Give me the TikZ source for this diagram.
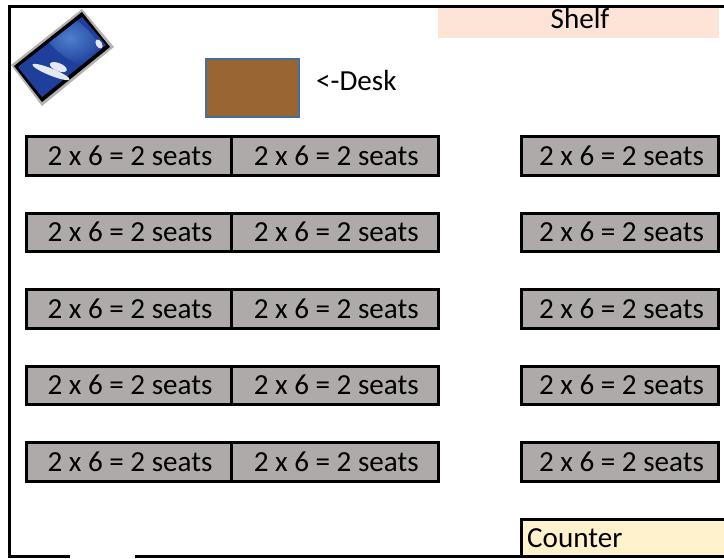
\documentclass[tikz,border=0pt]{standalone}
\usepackage{fontspec}
\setmainfont{Carlito}
\usetikzlibrary{positioning}
\definecolor{seatgrey}{HTML}{AEAAAA}
\definecolor{shelfpink}{HTML}{FDE4D7}
\definecolor{counteryellow}{HTML}{FFF2CC}
\definecolor{deskbrown}{HTML}{996633}
\definecolor{deskblue}{HTML}{41719C}
\definecolor{screenblue}{HTML}{1F3F9C}
\definecolor{skyblue}{HTML}{4F7FCC}
\tikzset{
    seat/.style={draw=black, fill=seatgrey, line width=3pt, minimum height=38.5pt, inner sep=0pt, outer sep=0pt, text height=19pt, text depth=1pt, font=\fontsize{29.1}{30}\selectfont, execute at begin node={\kern3pt}},
    seatl/.style={seat, minimum width=205pt},
    seatm/.style={seat, minimum width=207.5pt},
    seatr/.style={seat, minimum width=197pt},
    wall/.style={line width=3pt, line cap=rect},
    label/.style={inner sep=0pt, font=\fontsize{29.1}{30}\selectfont},
    cloud/.style={fill=white!88!screenblue},
}
\begin{document}
\begin{tikzpicture}[x=1pt, y=-1pt]
    \useasboundingbox (0,0) rectangle (724,558);
    \tikzset{node distance=38pt and 0pt}

    % room
    \node[fill=shelfpink, minimum width=281pt, minimum height=31pt, inner sep=0pt, outer sep=0pt] (shelf) at (578.5,22.5) {};
    \coordinate (topleft) at (9,6.5);
    \coordinate (topright) at (724,6.5);
    \coordinate (botleft) at (9,556.5);
    \coordinate (doorl) at (68,556.5);
    \coordinate (doorr) at (136,556.5);
    \coordinate (botright) at (724,556.5);
    \draw[wall] (topright) -- (topleft) -- (botleft) -- (doorl);
    \node[label, anchor=base] (shelftext) at (580,28) {Shelf};
    \node[draw=black, fill=counteryellow, line width=3pt, minimum width=206pt, minimum height=37pt, inner sep=0pt, outer sep=0pt] (counter) at (624.5,537.5) {};
    \node[label, anchor=base west] (countertext) at (527,547) {Counter};
    \draw[wall] (doorr) -- (botright);

    % desk
    \node[draw=deskblue, fill=deskbrown, line width=2pt, minimum width=93pt, minimum height=58pt, outer sep=0pt] (desk) at (252,88) {};
    \node[label, anchor=base west] (desktext) at (316,90) {<-Desk};

    % screen
    \fill[black!30] (82,9) -- (114,47) -- (42,106) -- (11,65) -- cycle;
    \fill[black] (82,12) -- (110,47) -- (42,102) -- (14,66) -- cycle;
    \begin{scope}
      \clip (82,17) -- (106,45) -- (42,97) -- (18,67) -- cycle;
      \fill[screenblue] (0,0) rectangle (120,110);
      \shade[inner color=skyblue, outer color=screenblue, rotate around={-40:(70,38)}] (70,38) ellipse (40 and 18);
    \end{scope}
    \fill[cloud, rotate around={-22:(51,72)}] (51,72) ellipse (20 and 3.5);
    \fill[cloud, rotate around={-22:(58,68)}] (58,67) ellipse (9 and 4);
    \fill[cloud, rotate around={-60:(99,44)}] (99,44) ellipse (5 and 3);

    % seats
    \node[seatl] (s11) at (128.5,156) {2 x 6 = 2 seats};
    \node[seatm, right=0pt of s11] (s12) {2 x 6 = 2 seats};
    \node[seatr] (s13) at (620,156) {2 x 6 = 2 seats};

    \node[seatl, below=of s11] (s21) {2 x 6 = 2 seats};
    \node[seatm, below=of s12] (s22) {2 x 6 = 2 seats};
    \node[seatr, below=of s13] (s23) {2 x 6 = 2 seats};

    \node[seatl, below=of s21] (s31) {2 x 6 = 2 seats};
    \node[seatm, below=of s22] (s32) {2 x 6 = 2 seats};
    \node[seatr, below=of s23] (s33) {2 x 6 = 2 seats};

    \node[seatl, below=of s31] (s41) {2 x 6 = 2 seats};
    \node[seatm, below=of s32] (s42) {2 x 6 = 2 seats};
    \node[seatr, below=of s33] (s43) {2 x 6 = 2 seats};

    \node[seatl, below=of s41] (s51) {2 x 6 = 2 seats};
    \node[seatm, below=of s42] (s52) {2 x 6 = 2 seats};
    \node[seatr, below=of s43] (s53) {2 x 6 = 2 seats};
\end{tikzpicture}
\end{document}
